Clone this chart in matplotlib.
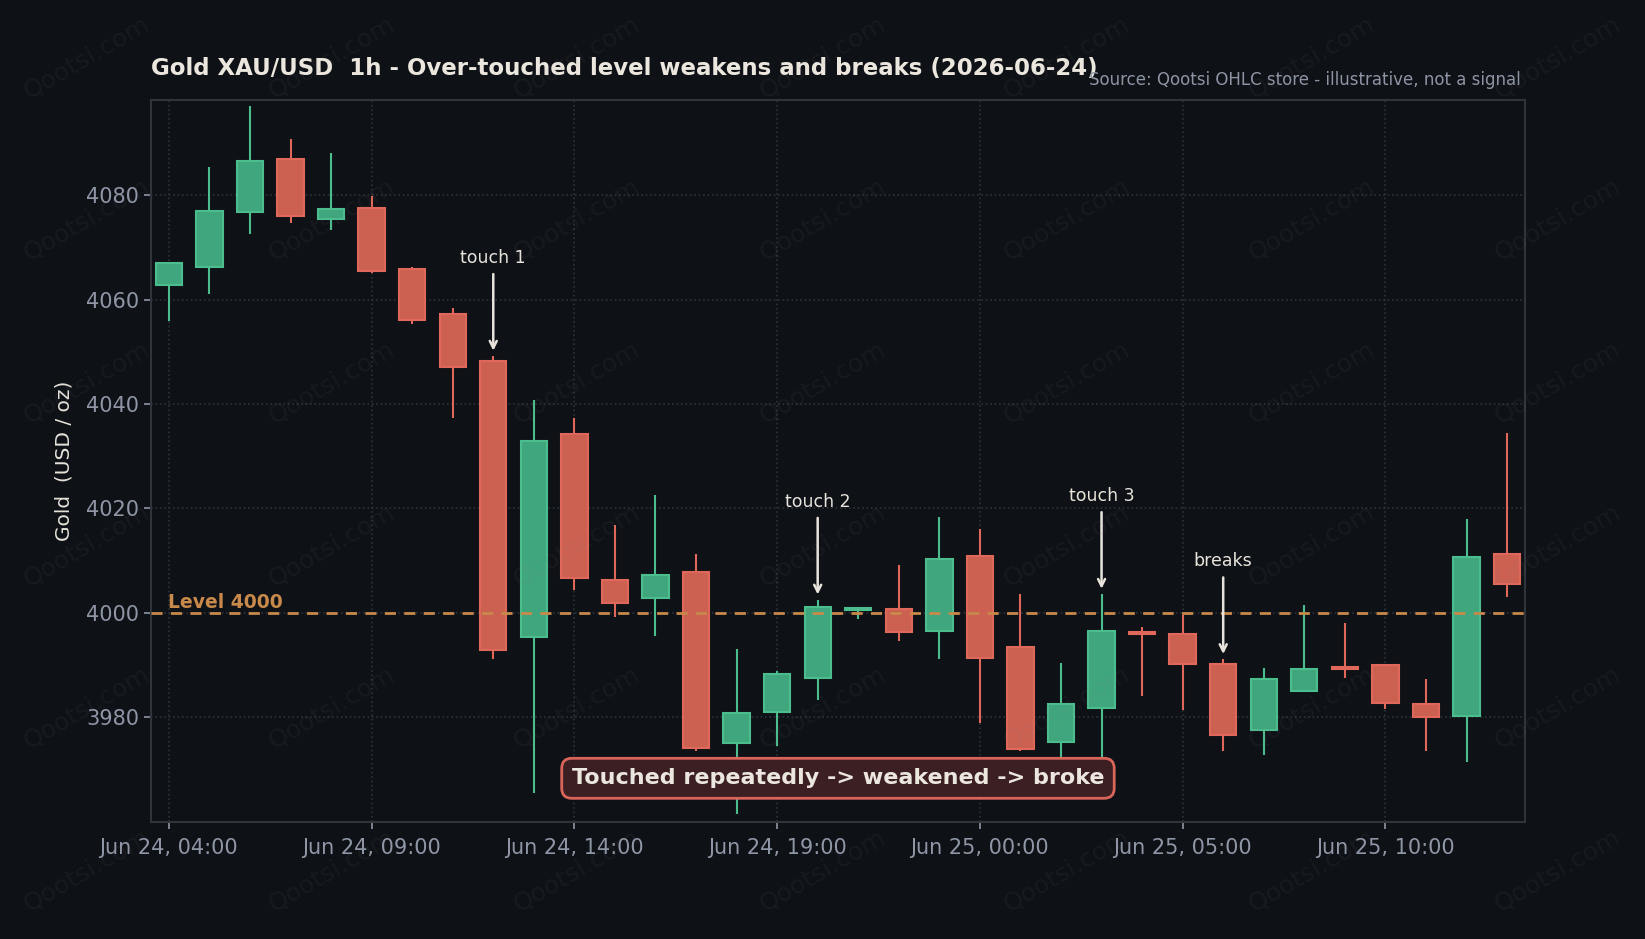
import datetime as dt
import matplotlib
matplotlib.use("Agg")
import matplotlib.pyplot as plt
import matplotlib.dates as mdates

# hourly OHLC, Jun 24 04:00 -> Jun 25 13:00
start = dt.datetime(2026, 6, 24, 4, 0)
opens = [4062.7, 4066.2, 4076.7, 4087.0, 4075.5, 4077.6, 4065.8, 4057.2, 4048.2, 3995.3,
         4034.3, 4006.3, 4002.8, 4007.8, 3975.1, 3981.0, 3987.5, 4000.5, 4000.8, 3996.6,
         4010.8, 3993.4, 3975.3, 3981.8, 3996.4, 3995.9, 3990.2, 3977.5, 3985.1, 3989.7,
         3990.0, 3982.5, 3980.3, 4011.2]
highs = [4066.9, 4085.4, 4097.0, 4090.8, 4088.0, 4079.8, 4066.2, 4058.4, 4049.2, 4040.8,
         4037.3, 4016.8, 4022.6, 4011.3, 3993.1, 3988.8, 4002.5, 4000.9, 4009.2, 4018.4,
         4016.1, 4003.6, 3990.4, 4003.6, 3997.3, 3999.6, 3991.1, 3989.4, 4001.5, 3998.0,
         3990.0, 3987.4, 4018.0, 4034.4]
lows = [4055.8, 4061.1, 4072.6, 4074.7, 4073.4, 4065.1, 4055.4, 4037.3, 3991.2, 3965.4,
        4004.3, 3999.2, 3995.5, 3973.6, 3961.4, 3974.4, 3983.3, 3998.8, 3994.5, 3991.2,
        3978.8, 3973.5, 3972.0, 3971.0, 3984.0, 3981.4, 3973.6, 3972.8, 3985.1, 3987.6,
        3981.6, 3973.5, 3971.5, 4003.1]
closes = [4066.9, 4076.9, 4086.6, 4075.9, 4077.3, 4065.4, 4056.0, 4047.0, 3992.8, 4032.9,
          4006.6, 4001.9, 4007.2, 3974.1, 3980.8, 3988.3, 4001.2, 4000.9, 3996.3, 4010.3,
          3991.3, 3973.9, 3982.5, 3996.6, 3995.9, 3990.2, 3976.5, 3987.3, 3989.3, 3989.2,
          3982.8, 3980.0, 4010.7, 4005.5]
times = [start + dt.timedelta(hours=i) for i in range(len(opens))]

level = 4000
marks = [(8, "touch 1"), (16, "touch 2"), (23, "touch 3"), (26, "breaks")]

BG = "#0e1116"
UP_FACE, UP_EDGE = "#3fa67e", "#4cbd8c"
DN_FACE, DN_EDGE = "#cc6152", "#e0685a"
GOLD = "#c8894a"

fig = plt.figure(figsize=(16.45, 9.39), dpi=100, facecolor=BG)
ax = fig.add_axes([0.0918, 0.125, 0.8352, 0.769])
ax.set_facecolor(BG)

w = 0.65 / 24
for t, o, h, l, c in zip(times, opens, highs, lows, closes):
    up = c >= o
    face = UP_FACE if up else DN_FACE
    edge = UP_EDGE if up else DN_EDGE
    x = mdates.date2num(t)
    ax.vlines(x, l, h, color=edge, lw=1.5, zorder=2)
    ax.bar(x, max(abs(c - o), 0.3), bottom=min(o, c), width=w,
           color=face, edgecolor=edge, linewidth=1.5, zorder=3)

ax.axhline(level, color=GOLD, ls=(0, (4, 3)), lw=2, zorder=4)
ax.text(mdates.date2num(times[0]) - 0.01 / 24, level + 0.2, "Level 4000", color=GOLD,
        fontsize=13.5, fontweight="bold", ha="left", va="bottom", zorder=5)

for i, label in marks:
    x = mdates.date2num(times[i])
    ax.annotate(label, xy=(x, highs[i] + 1.0), xytext=(x, highs[i] + 17),
                ha="center", va="bottom", color="#e8e4dc", fontsize=12.5,
                arrowprops=dict(arrowstyle="->", color="#e8e4dc", lw=1.8,
                                shrinkA=3, shrinkB=0), zorder=6)

ax.text(0.5, 0.06, "Touched repeatedly -> weakened -> broke", transform=ax.transAxes,
        ha="center", va="center", fontsize=16, fontweight="bold", color="#ece7de",
        bbox=dict(boxstyle="round,pad=0.45", fc="#3b1f22", ec="#d9655a", lw=2), zorder=7)

ax.set_xlim(mdates.date2num(times[0]) - 0.44 / 24, mdates.date2num(times[-1]) + 0.44 / 24)
ax.set_ylim(3960, 4098.3)
ax.set_xticks([mdates.date2num(t) for t in times[::5]])
ax.xaxis.set_major_formatter(mdates.DateFormatter("%b %d, %H:%M"))
ax.set_yticks([3980, 4000, 4020, 4040, 4060, 4080])
ax.tick_params(colors="#8f96a6", labelsize=15, length=5, width=1.2)
ax.tick_params(axis="x", pad=7)
for s in ax.spines.values():
    s.set_color("#30343b")
    s.set_linewidth(1.5)
ax.grid(True, color="#2e3239", ls=":", lw=1.2, zorder=0)
ax.set_axisbelow(True)

ax.set_ylabel("Gold  (USD / oz)", color="#e6e2da", fontsize=14.5, labelpad=9)
ax.text(0, 1.034, "Gold XAU/USD  1h - Over-touched level weakens and breaks (2026-06-24)",
        transform=ax.transAxes, ha="left", va="baseline", fontsize=16.5,
        fontweight="bold", color="#ece7de")
ax.text(0.997, 1.02, "Source: Qootsi OHLC store - illustrative, not a signal",
        transform=ax.transAxes, ha="right", va="baseline", fontsize=12, color="#8d94a3")

# faint watermark grid
for wy in [55, 210, 365, 520, 675, 830]:
    for wx in [83, 316, 550, 784, 1017, 1250, 1485]:
        fig.text(wx / 1568, 1 - wy / 895, "Qootsi.com", rotation=30, fontsize=18,
                 color="#888888", alpha=0.08, ha="center", va="center", zorder=10)

fig.savefig("out.png", dpi=100, facecolor=BG)
